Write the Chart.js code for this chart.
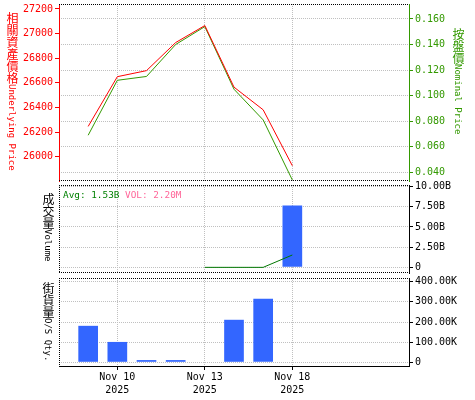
<!DOCTYPE html>
<html><head><meta charset="utf-8">
<script src="https://cdn.jsdelivr.net/npm/chart.js@4/dist/chart.umd.min.js"></script>
<style>
html,body{margin:0;padding:0;background:#fff;width:475px;height:400px;overflow:hidden}
canvas{position:absolute;left:0;top:0}
.vt{position:absolute;writing-mode:vertical-rl;font-family:"DejaVu Sans Mono",monospace;font-size:9px;line-height:12px;white-space:nowrap}
.vt .c{font-family:"Noto Sans CJK TC";font-size:12px}
.note{position:absolute;font-family:"DejaVu Sans Mono",monospace;font-size:9.4px;line-height:13px;white-space:nowrap}
</style></head><body>
<canvas id="c1" width="475" height="400"></canvas>
<canvas id="c2" width="475" height="400"></canvas>
<canvas id="c3" width="475" height="400"></canvas>
<div class="vt" style="left:6px;top:12px;color:#ff0000"><span class="c">相關資產價格</span>Underlying Price</div>
<div class="vt" style="left:452px;top:28px;color:#339900"><span class="c">按盤價</span>Nominal Price</div>
<div class="vt" style="left:42px;top:193px;color:#000"><span class="c">成交量</span>Volume</div>
<div class="vt" style="left:42px;top:282px;color:#000"><span class="c">街貨量</span>O/S Qty.</div>
<div class="note" id="avg" style="left:63px;top:188px;color:#008000"></div>
<div class="note" id="vol" style="left:125px;top:188px;color:#ff6699"></div>
<script>
const categories = ['Nov 6','Nov 7','Nov 10','Nov 11','Nov 12','Nov 13','Nov 14','Nov 17','Nov 18','Nov 19','Nov 20','Nov 21','Nov 24'];
const tickYear = '2025';
const labeledTicks = ['Nov 10','Nov 13','Nov 18'];
const underlying = [null, 26246, 26650, 26699, 26927, 27065, 26565, 26381, 25927, null, null, null, null];
const nominal    = [null, 0.069, 0.112, 0.115, 0.140, 0.154, 0.105, 0.081, 0.034, null, null, null, null];
const turnover   = [null, null, null, null, null, null, null, null, 7.65e9, null, null, null, null];
const avgTurnover= [null, null, null, null, null, 0, 0, 0, 1.53e9, null, null, null, null];
const osQty      = [null, 181000, 101000, 11000, 11000, null, 211000, 316000, null, null, null, null, null];
const leftTicks  = [26000, 26200, 26400, 26600, 26800, 27000, 27200];
const rightTicks = [0.04, 0.06, 0.08, 0.10, 0.12, 0.14, 0.16];
const volTicks   = [0, 2.5e9, 5e9, 7.5e9, 1e10];
const qtyTicks   = [0, 100000, 200000, 300000, 400000];
const avgLabel = 'Avg: 1.53B';
const volLabel = 'VOL: 2.20M';

document.getElementById('avg').textContent = avgLabel;
document.getElementById('vol').textContent = volLabel;

Chart.defaults.font.family = '"DejaVu Sans Mono", monospace';
Chart.defaults.font.size = 10;
Chart.defaults.animation = false;
Chart.defaults.responsive = false;
Chart.defaults.plugins.legend.display = false;
Chart.defaults.plugins.tooltip.enabled = false;

const GRID = '#c0c0c0';
const CLEAR = 'rgba(0,0,0,0)';
const isLab = i => labeledTicks.includes(categories[i]);

function xScale(show) {
  return {
    type: 'category', offset: false,
    grid: { offset: false, color: c => isLab(c.index) ? GRID : CLEAR,
            tickColor: c => isLab(c.index) ? '#000' : CLEAR, drawTicks: show, tickLength: 4, lineWidth: 1 },
    border: { display: show, color: '#000', dash: [1, 1] },
    ticks: { display: show, autoSkip: false, maxRotation: 0, minRotation: 0, padding: 1, color: '#000',
             font: { size: 10, lineHeight: 1.3 },
             callback: (v, i) => isLab(i) ? [categories[i], tickYear] : '' },
    afterFit: s => { s.paddingLeft = 0; s.paddingRight = 0; s.height = show ? 34 : 0; }
  };
}
function yScale(pos, arr, min, max, color, fmt, gridOn, width, axisColor) {
  return {
    type: 'linear', position: pos, min: min, max: max,
    afterBuildTicks: s => { s.ticks = arr.map(v => ({ value: v })); },
    afterFit: s => { s.width = width; s.paddingTop = 0; s.paddingBottom = 0; },
    grid: { drawOnChartArea: gridOn, color: GRID, tickColor: axisColor, tickLength: 4, drawTicks: true, lineWidth: 1 },
    border: { display: true, color: axisColor, width: 1, dash: [1, 1] },
    ticks: { color: color, padding: 2, autoSkip: false, callback: fmt, font: { size: 10 } }
  };
}
const dotBox = {
  id: 'dotBox',
  afterDraw(chart, args, o) {
    const ctx = chart.ctx, a = chart.chartArea;
    ctx.save(); ctx.strokeStyle = '#000'; ctx.lineWidth = 1; ctx.setLineDash([1, 1]);
    ctx.beginPath();
    if (o.top) { ctx.moveTo(a.left, a.top + 0.5); ctx.lineTo(a.right, a.top + 0.5); }
    if (o.bottom) { ctx.moveTo(a.left, a.bottom - 0.5); ctx.lineTo(a.right, a.bottom - 0.5); }
    if (o.left) { ctx.moveTo(a.left + 0.5, a.top); ctx.lineTo(a.left + 0.5, a.bottom); }
    ctx.stroke(); ctx.restore();
  }
};
const fmtB = v => v === 0 ? '0' : (v / 1e9).toFixed(2) + 'B';
const fmtK = v => v === 0 ? '0' : (v / 1000).toFixed(2) + 'K';

new Chart(document.getElementById('c1'), {
  type: 'line',
  data: { labels: categories, datasets: [
    { data: underlying, yAxisID: 'yL', borderColor: '#ff0000', borderWidth: 1, pointRadius: 0, tension: 0 },
    { data: nominal, yAxisID: 'yR', borderColor: '#339900', borderWidth: 1, pointRadius: 0, tension: 0 }
  ]},
  options: {
    layout: { padding: { top: 4, bottom: 219, left: 0, right: 0 } },
    scales: {
      x: xScale(false),
      yL: yScale('left', leftTicks, 25803, 27240, '#ff0000', v => String(v), false, 59, '#ff0000'),
      yR: yScale('right', rightTicks, 0.0332, 0.1717, '#339900', v => v.toFixed(3), true, 66, '#339900')
    },
    plugins: { dotBox: { top: true, bottom: true } }
  },
  plugins: [dotBox]
});

new Chart(document.getElementById('c2'), {
  type: 'bar',
  data: { labels: categories, datasets: [
    { type: 'line', data: avgTurnover, yAxisID: 'y', borderColor: '#007700', borderWidth: 1, pointRadius: 0, tension: 0 },
    { type: 'bar', data: turnover, yAxisID: 'y', backgroundColor: '#3366ff', barPercentage: 0.75, categoryPercentage: 0.9 }
  ]},
  options: {
    layout: { padding: { top: 185, bottom: 127, left: 59, right: 0 } },
    scales: {
      x: xScale(false),
      y: yScale('right', volTicks, -0.7e9, 10.2e9, '#000', fmtB, true, 66, '#000')
    },
    plugins: { dotBox: { top: true, bottom: true, left: true } }
  },
  plugins: [dotBox]
});

new Chart(document.getElementById('c3'), {
  type: 'bar',
  data: { labels: categories, datasets: [
    { data: osQty, yAxisID: 'y', backgroundColor: '#3366ff', barPercentage: 0.75, categoryPercentage: 0.9 }
  ]},
  options: {
    layout: { padding: { top: 278, bottom: 0, left: 59, right: 0 } },
    scales: {
      x: xScale(true),
      y: yScale('right', qtyTicks, -18400, 418400, '#000', fmtK, true, 66, '#000')
    },
    plugins: { dotBox: { top: true, left: true } }
  },
  plugins: [dotBox]
});
</script>
</body></html>
